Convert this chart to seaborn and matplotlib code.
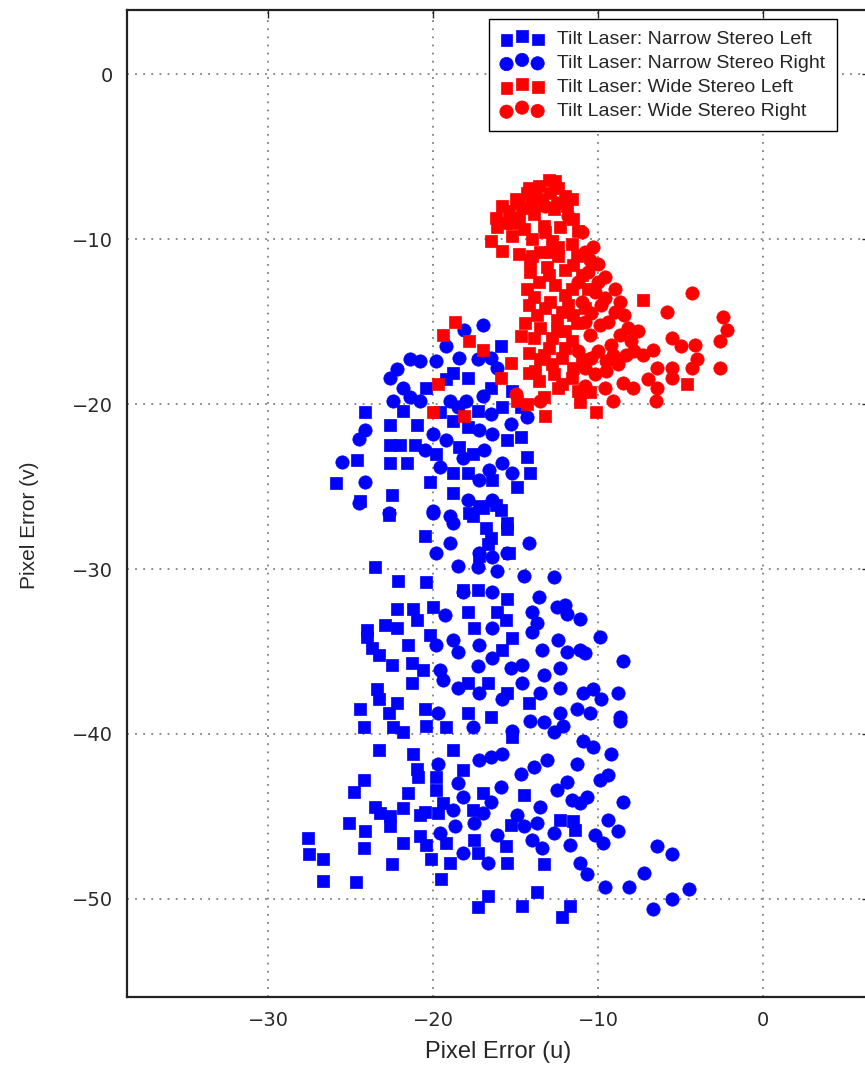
import matplotlib
matplotlib.use("Agg")
import matplotlib.pyplot as plt
import seaborn as sns
import pandas as pd
import numpy as np

# Narrow stereo, left camera (blue squares)
narrow_left_u = [-27.6, -27.5, -26.7, -26.7, -24.7, -25.1, -24.2, -24.8, -23.5, -23.3, -23.2, -22.6, -22.6, -24.1, -24.2,
                 -22.5, -21.8, -21.5, -21.2, -21.0, -20.9, -21.8, -20.8, -20.5, -20.8, -20.4, -20.1, -19.5, -19.0, -17.5,
                 -17.3, -17.3, -16.7, -19.2, -19.7, -19.4, -19.8, -19.8, -18.8, -18.2, -17.6, -17.0, -14.6, -13.7, -12.2,
                 -11.7, -15.5, -15.6, -13.3, -12.3, -11.5, -11.4, -15.3, -14.5, -15.2,
                 -23.5, -22.1, -20.4, -22.2, -21.2, -21.0, -22.9, -22.2, -24.0, -24.0, -21.5, -23.7, -23.3, -22.5, -21.3,
                 -20.6, -20.0, -20.2, -21.3, -23.4, -23.3, -22.2, -24.4, -22.7, -20.5, -24.2, -22.4, -21.8, -20.4, -19.2,
                 -17.9, -16.1, -15.6, -17.5, -15.2, -15.8, -17.9, -16.7, -15.5, -17.9, -16.5, -14.2, -20.5, -22.7, -15.4,
                 -17.2, -16.7, -15.5, -18.2, -17.3,
                 -24.1, -22.6, -22.6, -22.0, -21.1, -24.6, -22.6, -21.6, -25.9, -24.4, -22.5, -20.2, -15.9, -20.4, -19.6,
                 -18.8, -17.3, -15.8, -14.7, -14.7, -14.3, -14.1, -14.9, -16.4, -17.6, -18.4, -19.8, -18.8, -17.9, -18.8,
                 -17.2, -15.9, -17.6, -15.5, -17.9, -15.5, -15.5, -16.8, -16.5, -16.2, -17.0, -17.8, -19.2, -18.8, -17.9,
                 -16.5, -15.2, -21.8, -21.0]
narrow_left_v = [-46.3, -47.3, -47.6, -48.9, -49.0, -45.4, -42.8, -43.5, -44.4, -41.0, -44.8, -45.0, -45.6, -45.9, -46.9,
                 -47.9, -44.5, -43.6, -41.2, -42.1, -42.6, -46.6, -44.9, -44.7, -46.2, -46.7, -47.6, -48.8, -47.8, -46.4,
                 -47.2, -50.5, -49.8, -46.6, -44.8, -44.2, -43.4, -42.6, -41.0, -42.2, -44.6, -43.6, -50.4, -49.6, -51.1,
                 -50.4, -47.8, -46.8, -47.9, -45.2, -45.3, -45.8, -45.5, -43.7, -40.2,
                 -29.9, -30.7, -30.8, -32.4, -32.4, -33.1, -33.4, -33.6, -33.7, -34.1, -34.6, -34.8, -35.2, -35.8, -35.7,
                 -36.1, -32.3, -34.0, -36.9, -37.3, -37.9, -38.1, -38.5, -38.7, -38.5, -39.6, -39.6, -39.9, -39.5, -39.6,
                 -32.6, -32.6, -33.1, -33.6, -34.2, -34.9, -36.9, -36.9, -37.5, -38.7, -39.0, -38.1, -28.0, -26.7, -29.0,
                 -29.2, -28.5, -31.8, -31.3, -31.3,
                 -20.5, -21.3, -22.5, -22.5, -22.5, -23.4, -23.6, -23.6, -24.8, -25.9, -25.5, -24.7, -16.5, -19.0, -20.5,
                 -21.0, -20.4, -20.2, -20.2, -22.0, -23.2, -24.2, -25.0, -24.6, -23.0, -22.6, -23.0, -24.2, -24.2, -25.4,
                 -26.2, -26.4, -26.8, -22.2, -21.4, -27.2, -27.6, -27.5, -28.1, -26.1, -26.3, -26.6, -18.5, -18.1, -18.4,
                 -19.0, -19.2, -20.4, -21.3]

# Narrow stereo, right camera (blue circles)
narrow_right_u = [-18.2, -18.7, -19.6, -18.5, -18.2, -18.8, -17.5, -17.0, -17.2, -19.7, -16.7, -16.1, -14.0, -13.4, -11.7,
                  -11.1, -10.7, -10.2, -9.7, -9.4, -8.8, -8.5, -11.6, -11.1, -10.7, -13.5, -14.9, -14.5, -13.7, -12.7,
                  -9.9, -9.4, -9.2, -10.3, -10.9, -11.3, -11.9, -12.5, -13.1, -13.9, -14.7, -15.8, -16.5, -15.9, -16.5,
                  -12.7, -12.1, -8.7, -9.6, -8.1, -7.2, -6.4, -5.5, -6.7, -5.5, -4.5,
                  -19.8, -19.0, -18.5, -18.2, -19.8, -19.3, -18.8, -18.5, -19.6, -19.4, -18.5, -19.7, -14.2, -17.3, -16.1,
                  -14.5, -12.7, -16.4, -13.6, -12.5, -12.0, -11.9, -11.1, -9.9, -8.5, -14.0, -13.7, -16.4, -14.0, -17.2,
                  -13.4, -12.4, -11.9, -11.1, -10.8, -16.4, -17.3, -14.6, -15.3, -12.3, -13.3, -12.3, -14.6, -13.5, -17.2,
                  -10.9, -10.3, -9.8, -8.8, -15.8, -12.3, -11.3, -10.5, -8.7, -13.3, -15.2, -17.6, -14.1, -18.8, -20.0,
                  -16.4, -15.5, -17.2,
                  -17.0, -18.1, -21.4, -20.8, -22.2, -22.6, -19.8, -19.2, -18.4, -17.3, -16.5, -16.1, -21.8, -21.4, -22.4,
                  -20.8, -24.1, -24.5, -25.5, -24.1, -22.7, -20.0, -24.5, -19.2, -19.6, -17.2, -17.9, -16.4, -19.0, -16.4,
                  -17.2, -15.3, -14.3, -16.5, -18.0, -19.0, -20.0, -18.2, -16.9, -15.8, -17.0, -18.5, -20.5, -16.6, -15.2]
narrow_right_v = [-47.2, -45.6, -46.0, -43.0, -43.8, -44.6, -45.4, -44.8, -41.6, -41.8, -47.8, -46.1, -46.4, -46.9, -46.7,
                  -47.8, -48.5, -46.1, -46.6, -45.2, -45.9, -44.1, -44.0, -44.2, -43.8, -44.4, -44.9, -45.6, -45.4, -46.0,
                  -42.8, -42.5, -41.2, -40.8, -40.4, -41.8, -42.9, -43.4, -41.6, -42.0, -42.4, -41.2, -41.4, -43.2, -44.1,
                  -39.9, -39.5, -39.2, -49.3, -49.3, -48.4, -46.8, -47.3, -50.6, -50.0, -49.4,
                  -29.0, -28.4, -29.8, -31.4, -34.6, -32.8, -34.3, -35.0, -36.1, -36.7, -37.2, -38.7, -28.4, -29.9, -30.1,
                  -30.4, -30.5, -31.4, -31.7, -32.3, -32.2, -32.7, -33.0, -34.1, -35.6, -32.6, -33.3, -33.6, -33.8, -34.6,
                  -34.9, -34.3, -35.0, -34.9, -35.1, -35.4, -35.9, -35.8, -36.0, -36.0, -36.4, -37.2, -36.9, -37.5, -37.5,
                  -37.5, -37.3, -37.9, -37.5, -37.9, -38.7, -38.5, -38.7, -39.0, -39.3, -39.8, -39.6, -39.2, -27.2, -26.6,
                  -29.3, -29.0, -29.0,
                  -15.2, -15.5, -17.3, -17.4, -17.9, -18.4, -17.4, -16.5, -17.2, -17.3, -17.2, -17.8, -19.0, -19.6, -19.8,
                  -19.8, -21.6, -22.1, -23.5, -24.7, -26.6, -26.5, -26.0, -22.2, -23.8, -24.6, -25.8, -25.8, -26.8, -21.8,
                  -21.6, -21.2, -20.8, -20.6, -19.8, -19.8, -21.8, -23.3, -22.8, -23.6, -19.5, -20.2, -22.8, -24.0, -24.2]

# Wide stereo, left camera (red squares)
wide_left_u = [-16.2, -16.1, -16.5, -15.8, -14.8, -14.1, -14.1, -14.4, -14.7, -14.2, -14.2, -13.5, -13.3, -10.5, -11.1,
               -10.1, -18.7, -17.8, -17.0, -15.3, -15.9, -14.9, -18.1, -19.7, -20.0, -19.4, -7.3, -4.6, -13.2, -14.3,
               -13.0, -13.6, -12.4, -14.3, -15.0, -12.0, -11.9, -13.4, -14.6, -15.4, -15.6, -13.9, -12.7, -11.5, -11.2,
               -12.3, -13.3, -14.5, -15.2, -14.0, -12.8, -11.6, -11.3, -12.4, -13.5, -13.1, -12.0, -11.0, -13.6, -12.6,
               -11.6, -10.6, -13.9, -12.9, -11.8, -10.8, -13.7, -12.5, -11.3, -13.9, -12.8, -11.6, -13.3, -12.2, -11.0,
               -13.8, -12.7, -11.6, -12.4, -12.0, -14.8, -12.9, -14.2,
               -14.8, -13.8, -12.6, -11.6, -15.8, -13.2, -14.0, -12.4, -11.5, -13.0, -12.0, -13.2, -12.2, -14.2, -13.5,
               -12.5, -11.5, -14.3, -13.0, -12.0, -12.8, -11.5, -13.6, -12.2, -11.2, -15.2, -14.0, -12.9]
wide_left_v = [-8.7, -9.3, -10.1, -10.7, -10.9, -11.3, -12.0, -15.1, -15.9, -16.9, -18.1, -17.3, -19.6, -19.3, -19.9,
               -20.5, -15.0, -16.2, -16.7, -17.5, -18.4, -19.8, -20.7, -18.8, -20.5, -15.8, -13.7, -18.8, -20.7, -20.0,
               -6.4, -6.8, -6.9, -7.2, -7.6, -7.4, -8.0, -7.6, -8.1, -8.3, -9.0, -8.5, -8.2, -8.8, -9.5,
               -9.3, -9.2, -9.4, -9.8, -10.0, -10.1, -10.3, -11.0, -11.0, -10.8, -11.7, -11.9, -12.2, -12.6, -12.8,
               -13.0, -13.0, -13.5, -13.8, -14.0, -14.2, -14.6, -14.9, -15.1, -16.0, -16.0, -16.2, -17.0, -17.2, -17.3,
               -18.0, -18.2, -18.4, -19.0, -15.6, -8.7, -7.2, -6.9,
               -7.8, -7.0, -6.5, -7.6, -8.0, -9.6, -11.0, -10.5, -11.6, -12.2, -13.4, -14.2, -14.4, -14.0, -15.4,
               -15.6, -14.6, -13.0, -16.6, -16.6, -17.6, -17.8, -18.6, -18.8, -19.2, -9.0, -8.0, -10.8]

# Wide stereo, right camera (red circles)
wide_right_u = [-4.3, -5.8, -2.4, -2.2, -2.6, -2.6, -4.1, -4.0, -4.3, -5.5, -5.0, -5.5, -5.5, -6.4, -6.7,
                -7.3, -7.0, -6.4, -6.5, -7.9, -8.5, -9.1, -9.6,
                -10.3, -10.0, -9.6, -9.0, -8.7, -8.4, -8.2, -8.0, -8.3, -8.8, -9.5, -10.2, -10.8, -9.4, -9.8,
                -10.2, -10.6, -9.2, -10.0, -10.5, -11.0, -11.8, -12.5, -13.2, -14.0, -10.8, -9.5, -10.4, -11.2, -15.0,
                -13.5, -10.8, -7.6, -7.8,
                -10.0, -9.6, -9.0, -9.9, -8.7, -9.1, -10.4, -11.0, -10.8, -10.5, -11.2]
wide_right_v = [-13.3, -14.4, -14.7, -15.5, -16.2, -17.8, -16.4, -17.3, -17.8, -16.0, -16.5, -17.8, -18.4, -17.8, -16.7,
                -17.0, -18.5, -19.0, -19.8, -19.0, -18.7, -19.8, -19.0,
                -10.5, -11.5, -12.3, -13.0, -13.8, -14.6, -15.4, -16.2, -17.0, -17.6, -18.0, -18.2, -17.8, -15.0, -14.0,
                -13.2, -12.0, -16.4, -16.8, -15.8, -9.6, -8.6, -7.8, -8.0, -7.6, -10.8, -17.4, -14.5, -16.8, -19.4,
                -19.8, -18.9, -15.6, -16.8,
                -12.6, -13.6, -14.4, -15.2, -15.8, -17.0, -17.2, -13.8, -15.0, -11.3, -12.6]

series_labels = ["Tilt Laser: Narrow Stereo Left", "Tilt Laser: Narrow Stereo Right",
                 "Tilt Laser: Wide Stereo Left", "Tilt Laser: Wide Stereo Right"]
series_data = [(narrow_left_u, narrow_left_v), (narrow_right_u, narrow_right_v),
               (wide_left_u, wide_left_v), (wide_right_u, wide_right_v)]
series_colors = ["#0000ff", "#0000ff", "#ff0000", "#ff0000"]
series_markers = ["s", "o", "s", "o"]
series_sizes = [72, 92, 72, 92]

sns.set_style("white")
plt.rcParams["font.family"] = ["DejaVu Sans"]

fig = plt.figure(figsize=(8.65, 10.76), dpi=100)
ax = fig.add_axes([127 / 865, 79 / 1076, (870 - 127) / 865, 987 / 1076])

for (u, v), lab, col, mk, sz in zip(series_data, series_labels, series_colors, series_markers, series_sizes):
    df = pd.DataFrame({"u": u, "v": v})
    sns.scatterplot(data=df, x="u", y="v", ax=ax, color=col, marker=mk, s=sz,
                    edgecolor=col, linewidth=0.5, label=lab, legend=False)

ax.set_xlim(-38.55, 6.48)
ax.set_ylim(-55.94, 3.88)
ax.set_xticks([-30, -20, -10, 0])
ax.set_yticks([0, -10, -20, -30, -40, -50])
ax.set_xticklabels(["\u221230", "\u221220", "\u221210", "0"])
ax.set_yticklabels(["0", "\u221210", "\u221220", "\u221230", "\u221240", "\u221250"])

ax.grid(True, color="#808080", linestyle=(0, (1, 3.5)), linewidth=1.3)
ax.set_axisbelow(True)
for sp in ax.spines.values():
    sp.set_color("#222222")
    sp.set_linewidth(1.6)
ax.tick_params(direction="in", length=6, width=1, top=True, right=True,
               labelsize=14, labelcolor="#2a2a2a", pad=10)

ax.set_xlabel("Pixel Error (u)", fontsize=17, family=["Liberation Sans", "DejaVu Sans"], labelpad=8)
ax.set_ylabel("Pixel Error (v)", fontsize=15, family=["Liberation Sans Narrow", "Liberation Sans"])
ax.yaxis.set_label_coords(-0.118, 0.478)

leg = ax.legend(loc="upper left", bbox_to_anchor=(489 / 865, 1 - 19 / 1076), bbox_transform=fig.transFigure,
                scatterpoints=3, scatteryoffsets=[0.3, 0.6, 0.35], frameon=True, fancybox=False,
                prop={"family": ["Liberation Sans", "DejaVu Sans"], "size": 14},
                borderpad=0.6, labelspacing=0.32, handletextpad=0.7, handlelength=2.2, borderaxespad=0)
leg.get_frame().set_edgecolor("black")
leg.get_frame().set_linewidth(1.0)
leg.get_frame().set_alpha(1.0)

plt.savefig("out.png", dpi=100)
